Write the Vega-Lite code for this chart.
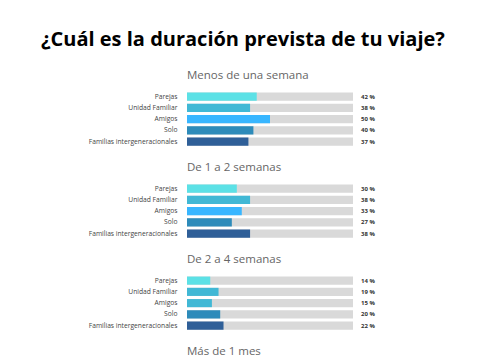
{
  "$schema": "https://vega.github.io/schema/vega-lite/v6.json",
  "padding": {"left": 40, "top": 29, "right": 0, "bottom": 0},
  "background": "white",
  "title": {"text": "¿Cuál es la duración prevista de tu viaje?", "font": "Open Sans", "fontSize": 20, "fontWeight": "bold", "color": "#000000", "anchor": "middle", "offset": 20, "dx": 12},
  "data": {"values": [
    {"section": "Menos de una semana", "group": "Parejas", "value": 42},
    {"section": "Menos de una semana", "group": "Unidad Familiar", "value": 38},
    {"section": "Menos de una semana", "group": "Amigos", "value": 50},
    {"section": "Menos de una semana", "group": "Solo", "value": 40},
    {"section": "Menos de una semana", "group": "Familias intergeneracionales", "value": 37},
    {"section": "De 1 a 2 semanas", "group": "Parejas", "value": 30},
    {"section": "De 1 a 2 semanas", "group": "Unidad Familiar", "value": 38},
    {"section": "De 1 a 2 semanas", "group": "Amigos", "value": 33},
    {"section": "De 1 a 2 semanas", "group": "Solo", "value": 27},
    {"section": "De 1 a 2 semanas", "group": "Familias intergeneracionales", "value": 38},
    {"section": "De 2 a 4 semanas", "group": "Parejas", "value": 14},
    {"section": "De 2 a 4 semanas", "group": "Unidad Familiar", "value": 19},
    {"section": "De 2 a 4 semanas", "group": "Amigos", "value": 15},
    {"section": "De 2 a 4 semanas", "group": "Solo", "value": 20},
    {"section": "De 2 a 4 semanas", "group": "Familias intergeneracionales", "value": 22},
    {"section": "Más de 1 mes", "group": "Parejas", "value": 14},
    {"section": "Más de 1 mes", "group": "Unidad Familiar", "value": 5},
    {"section": "Más de 1 mes", "group": "Amigos", "value": 2},
    {"section": "Más de 1 mes", "group": "Solo", "value": 13},
    {"section": "Más de 1 mes", "group": "Familias intergeneracionales", "value": 3}
  ]},
  "transform": [{"calculate": "datum.value + ' %'", "as": "label"}],
  "facet": {"row": {"field": "section", "type": "nominal",
    "sort": ["Menos de una semana", "De 1 a 2 semanas", "De 2 a 4 semanas", "Más de 1 mes"],
    "header": {"title": null, "labelOrient": "top", "labelAnchor": "start", "labelAlign": "left", "labelFont": "Open Sans", "labelFontSize": 11.5, "labelColor": "#666666", "labelPadding": 10}}},
  "spacing": 13,
  "spec": {
    "width": 166,
    "height": {"step": 11.25},
    "encoding": {
      "y": {"field": "group", "type": "nominal",
        "sort": ["Parejas", "Unidad Familiar", "Amigos", "Solo", "Familias intergeneracionales"],
        "scale": {"paddingInner": 0.28, "paddingOuter": 0.14},
        "axis": {"title": null, "ticks": false, "domain": false, "labelPadding": 10, "labelFont": "Open Sans", "labelFontSize": 6.7, "labelColor": "#444444", "minExtent": 100, "maxExtent": 100, "labelLimit": 200}}
    },
    "layer": [
      {"mark": {"type": "bar", "color": "#d9d9d9"},
       "encoding": {"x": {"datum": 100, "type": "quantitative", "scale": {"domain": [0, 100]}, "axis": null}}},
      {"mark": {"type": "bar"},
       "encoding": {
         "x": {"field": "value", "type": "quantitative", "axis": null},
         "color": {
           "condition": {"test": "datum.section === 'De 2 a 4 semanas' && datum.group === 'Amigos'", "value": "#41b8d5"},
           "field": "group", "type": "nominal", "legend": null,
           "scale": {"domain": ["Parejas", "Unidad Familiar", "Amigos", "Solo", "Familias intergeneracionales"],
                     "range": ["#5ce1e6", "#41b8d5", "#38b6ff", "#2d8bba", "#2f5f98"]}}
       }},
      {"mark": {"type": "text", "align": "left", "dx": 8, "fontWeight": "bold", "fontSize": 6, "font": "Open Sans", "color": "#333333"},
       "encoding": {"x": {"datum": 100, "type": "quantitative"}, "text": {"field": "label"}}}
    ]
  },
  "config": {"view": {"stroke": null}}
}
